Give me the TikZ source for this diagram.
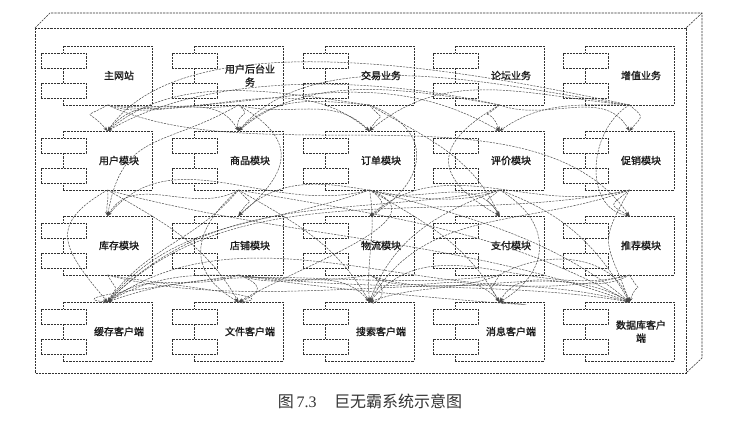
\documentclass[tikz,border=0pt]{standalone}
\usepackage{fontspec}
\setmainfont{Liberation Serif}
\newfontfamily\cjk{Noto Sans CJK SC}
\newfontfamily\cjkm[FakeBold=1.2]{Noto Sans CJK SC}
\usetikzlibrary{arrows.meta}
\newcommand\umlcomp[4]{%
  \node[mainbox, anchor=north west] (#1) at (#2,-#3) {};
  \node[smallbox, anchor=north west] (#1-a) at ([xshift=-22pt,yshift=-7pt]#1.north west) {};
  \node[smallbox, anchor=north west] (#1-b) at ([xshift=-22pt,yshift=-37pt]#1.north west) {};
  \node[lbl] (#1-t) at ([xshift=56pt,yshift=-29.5pt]#1.north west) {#4};
}
\begin{document}
\begin{tikzpicture}[x=1pt,y=1pt,
  boxline/.style={draw=black!80, line width=0.55pt, dash pattern=on 2.2pt off 1pt},
  mainbox/.style={boxline, minimum width=89pt, minimum height=59pt, inner sep=0pt, outer sep=0pt},
  smallbox/.style={boxline, fill=white, minimum width=45pt, minimum height=15pt, inner sep=0pt, outer sep=0pt},
  lbl/.style={font=\cjkm\fontsize{10}{13}\selectfont, align=center, inner sep=0pt, text=black!90},
  dep/.style={draw=black!70, line width=0.5pt, dash pattern=on 2.2pt off 1.1pt, -{Stealth[length=4.5pt,width=3.4pt,fill=black!85]}},
  captext/.style={font=\fontsize{16}{19}\selectfont, text=black!80, inner sep=0pt}
]
\useasboundingbox (0,0) rectangle (733,-424);
% outer 3D node
\coordinate (f1) at (35,-28);
\coordinate (f2) at (686,-28);
\coordinate (f3) at (686,-373);
\coordinate (b1) at (50,-13);
\coordinate (b2) at (702,-13);
\coordinate (b3) at (702,-358);
\draw[boxline] (f1) rectangle (f3);
\draw[boxline] (f1) -- (b1) -- (b2) -- (b3) -- (f3);
\draw[boxline] (b2) -- (f2);
% components
\umlcomp{zw}{63}{46}{主网站}
\umlcomp{yh}{194}{46}{用户后台业\\务}
\umlcomp{jy}{325}{46}{交易业务}
\umlcomp{lt}{455}{46}{论坛业务}
\umlcomp{zz}{585}{46}{增值业务}
\umlcomp{um}{63}{131}{用户模块}
\umlcomp{sp}{194}{131}{商品模块}
\umlcomp{dd}{325}{131}{订单模块}
\umlcomp{pj}{455}{131}{评价模块}
\umlcomp{cx}{585}{131}{促销模块}
\umlcomp{kc}{63}{216}{库存模块}
\umlcomp{dp}{194}{216}{店铺模块}
\umlcomp{wl}{325}{216}{物流模块}
\umlcomp{zf}{455}{216}{支付模块}
\umlcomp{tj}{585}{216}{推荐模块}
\umlcomp{hc}{63}{302}{缓存客户端}
\umlcomp{wj}{194}{302}{文件客户端}
\umlcomp{ss}{325}{302}{搜索客户端}
\umlcomp{xx}{455}{302}{消息客户端}
\umlcomp{sj}{585}{302}{数据库客户\\端}
% dependencies
\foreach \a/\b/\o/\i/\l in {
 zw/um/-150/130/3, zw/sp/-20/120/1, zw/dd/-10/140/1, zw/pj/-5/150/1, zw/tj/-25/125/0.8,
 yh/um/190/50/1, yh/sp/-40/100/2, yh/dd/-15/135/1, yh/kc/-150/80/1.3, yh/dp/-30/40/1.6,
 jy/um/172/40/0.9, jy/sp/175/45/1, jy/dd/-50/60/2.5, jy/wl/-20/30/1.6, jy/zf/-30/115/1,
 lt/um/167/30/0.8, lt/sp/170/40/0.9, lt/pj/-140/110/3, lt/cx/-20/120/1, lt/zf/-150/150/1.8,
 zz/cx/-40/50/2, zz/tj/-150/170/1.1, zz/um/168/55/0.7, zz/sp/172/50/0.8, zz/pj/180/35/1, zz/dd/175/40/1,
 um/kc/-80/100/1, sp/kc/-150/60/1, sp/dp/-50/60/2.5, dd/wl/-30/20/1.8, dd/zf/-20/120/1,
 dd/kc/195/50/1, pj/zf/-140/120/2.5, pj/dp/200/45/1, cx/tj/-140/150/2.5, cx/wl/195/40/1,
 um/hc/-150/130/1.6, um/sj/-15/160/0.9, um/wj/-30/120/1,
 sp/hc/-130/55/1, sp/wj/-140/150/1.4, sp/ss/-30/120/1, sp/sj/-10/150/0.9,
 dd/hc/-160/50/1, dd/ss/-80/95/1, dd/xx/-30/120/1, dd/sj/-15/140/0.9, dd/wj/-20/30/1.2,
 pj/hc/190/45/1, pj/ss/200/70/1, pj/sj/-20/120/1, pj/xx/-30/30/1.4,
 cx/hc/192/45/0.9, cx/ss/200/60/1, cx/sj/-120/110/1.5,
 kc/hc/-60/60/2, kc/sj/-15/165/0.8, kc/wj/-10/5/1,
 dp/hc/200/40/1, dp/wj/-20/20/2.5, dp/ss/-20/130/1, dp/xx/-10/-5/1, dp/sj/-8/170/0.8, dp/hc/190/175/1,
 wl/hc/190/30/1, wl/ss/-20/0/1.6, wl/xx/-30/130/1, wl/sj/-20/150/0.9,
 zf/xx/-120/120/2, zf/hc/188/20/0.9, zf/sj/30/110/1, zf/ss/200/20/1,
 tj/sj/-60/70/2.5, tj/hc/195/35/0.9, tj/ss/195/50/1, tj/xx/-150/60/1}
 {\draw[dep] (\a.south) to[out=\o,in=\i,looseness=\l] (\b.north);}
% caption
\node[captext] (caption) at (370,-401) {{\cjk 图}\,7.3\hspace{1.1em}{\cjk 巨无霸系统示意图}};
\end{tikzpicture}
\end{document}
